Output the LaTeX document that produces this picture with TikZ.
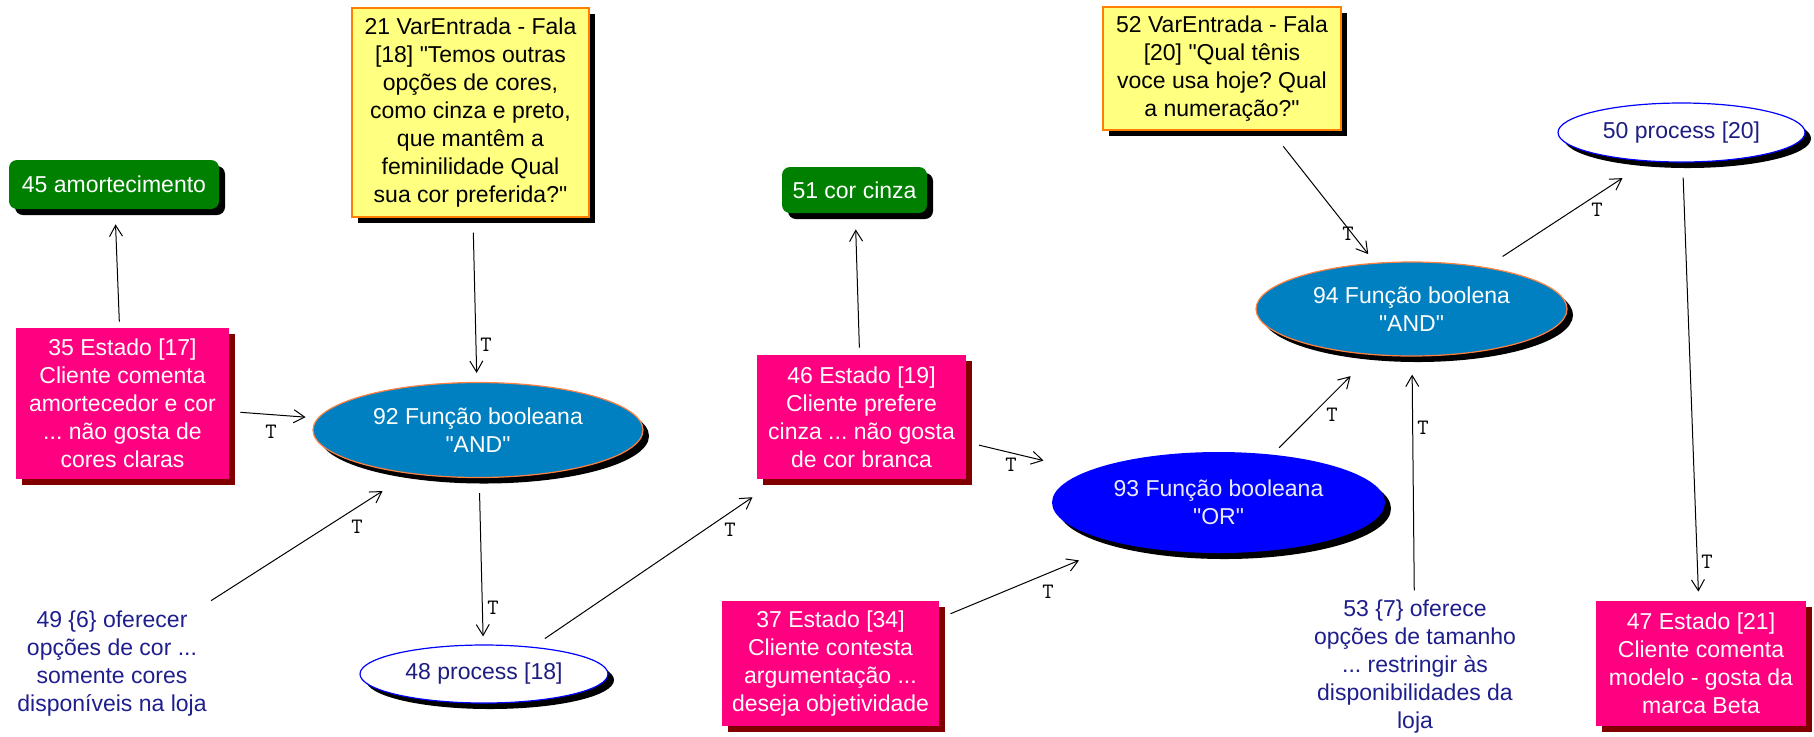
\documentclass[tikz,border=0pt]{standalone}
\usepackage{fontspec}
\setmainfont{Liberation Sans}[Ligatures=TeXOff]
\usetikzlibrary{shapes.geometric,shadows,arrows.meta}
\frenchspacing

\definecolor{statefill}{RGB}{255,0,128}
\definecolor{stateshadow}{RGB}{128,0,0}
\definecolor{termfill}{RGB}{0,128,0}
\definecolor{notefill}{RGB}{255,255,128}
\definecolor{noteline}{RGB}{255,128,0}
\definecolor{andfill}{RGB}{0,128,192}
\definecolor{andline}{RGB}{255,128,64}
\definecolor{orfill}{RGB}{0,0,255}
\definecolor{ortext}{RGB}{235,235,255}
\definecolor{procline}{RGB}{0,0,255}
\definecolor{proctext}{RGB}{30,30,128}
\definecolor{acttext}{RGB}{30,30,140}

\begin{document}
\begin{tikzpicture}[x=0.5pt,y=-0.5pt,
  base/.style={font=\fontsize{11.5pt}{14pt}\selectfont, align=center, inner sep=0pt},
  blackshadow/.style={drop shadow={shadow xshift=3pt,shadow yshift=-3pt,fill=black,opacity=1}},
  statebox/.style={base, rectangle, fill=statefill, text=white,
    drop shadow={shadow xshift=3pt,shadow yshift=-3pt,fill=stateshadow,opacity=1}},
  termbox/.style={base, rectangle, rounded corners=4pt, fill=termfill, text=white, blackshadow},
  notebox/.style={base, rectangle, fill=notefill, draw=noteline, line width=0.6pt, text=black, blackshadow},
  andell/.style={base, ellipse, fill=andfill, draw=andline, line width=0.6pt, text=white, blackshadow},
  orell/.style={base, ellipse, fill=orfill, text=ortext, blackshadow},
  procell/.style={base, ellipse, fill=white, draw=procline, line width=0.6pt, text=proctext, blackshadow},
  acttxt/.style={base, text=acttext},
  arr/.style={draw=black, line width=0.5pt, -{Straight Barb[length=5.5pt,width=6.5pt]}},
  tlab/.style={font=\ttfamily\fontsize{11pt}{11pt}\selectfont, inner sep=0pt, text=black}
]
\useasboundingbox (0,0) rectangle (1814,736);

% terminal concepts
\node[termbox, minimum width=105pt, minimum height=24.5pt] (n45) at (114,184.5) {45 amortecimento};
\node[termbox, minimum width=72.5pt, minimum height=23pt] (n51) at (854.5,190) {51 cor cinza};

% input utterances
\node[notebox, minimum width=118.5pt, minimum height=104.5pt] (n21) at (470.5,112.5)
  {21 VarEntrada - Fala\\{}[18] "Temos outras\\ opções de cores,\\ como cinza e preto,\\ que mantêm a\\ feminilidade Qual\\ sua cor preferida?"};
\node[notebox, minimum width=119pt, minimum height=61.5pt] (n52) at (1222,68.5)
  {52 VarEntrada - Fala\\{}[20] "Qual tênis\\ voce usa hoje? Qual\\ a numeração?"};

% client states
\node[statebox, minimum width=106.5pt, minimum height=75.5pt] (n35) at (122.5,403.5)
  {35 Estado [17]\\ Cliente comenta\\ amortecedor e cor\\ ... não gosta de\\ cores claras};
\node[statebox, minimum width=104.5pt, minimum height=62pt] (n46) at (861.5,417)
  {46 Estado [19]\\ Cliente prefere\\ cinza ... não gosta\\ de cor branca};
\node[statebox, minimum width=108.5pt, minimum height=62.5pt] (n37) at (830.5,663.5)
  {37 Estado [34]\\ Cliente contesta\\ argumentação ...\\ deseja objetividade};
\node[statebox, minimum width=105pt, minimum height=62.5pt] (n47) at (1701,663.5)
  {47 Estado [21]\\ Cliente comenta\\ modelo - gosta da\\ marca Beta};

% boolean functions
\node[andell, minimum width=165pt, minimum height=47.5pt] (n92) at (478,430) {92 Função booleana\\ "AND"};
\node[orell, minimum width=166.5pt, minimum height=50.5pt] (n93) at (1218.5,502.5) {93 Função booleana\\ "OR"};
\node[andell, minimum width=155.5pt, minimum height=47pt] (n94) at (1411.5,309) {94 Função boolena\\ "AND"};

% processes
\node[procell, minimum width=124pt, minimum height=29pt] (n48) at (484,674) {48 process [18]};
\node[procell, minimum width=123.5pt, minimum height=29.5pt] (n50) at (1681.5,132.5) {50 process [20]};

% actions
\node[acttxt] (n49) at (112,664) {49 \{6\} oferecer\\ opções de cor ...\\ somente cores\\ disponíveis na loja};
\node[acttxt] (n53) at (1415,666.5) {53 \{7\} oferece\\ opções de tamanho\\ ... restringir às\\ disponibilidades da\\ loja};

% connectors
\draw[arr, shorten <=3pt, shorten >=7.5pt] (n35) -- (n45);
\draw[arr, shorten <=3.5pt, shorten >=8pt] (n46) -- (n51);
\draw[arr, shorten <=7.5pt, shorten >=4.5pt] (n21) -- (n92);
\draw[arr, shorten <=5.5pt, shorten >=6pt] (n35) -- (n92);
\draw[arr, shorten <=9.5pt, shorten >=16pt] (n49) -- (n92);
\draw[arr, shorten <=7.5pt, shorten >=4pt] (n92) -- (n48);
\draw[arr, shorten <=12pt, shorten >=10.5pt, transform canvas={yshift=-3pt}] (n48) -- (n46);
\draw[arr, shorten <=6.5pt, shorten >=22.5pt] (n46) -- (n93);
\draw[arr, shorten <=6pt, shorten >=22pt] (n37) -- (n93);
\draw[arr, shorten <=8.5pt, shorten >=11pt, transform canvas={yshift=-3pt}] (n93) -- (n94);
\draw[arr, shorten <=10pt, shorten >=5.5pt] (n52) -- (n94);
\draw[arr, shorten <=4.5pt, shorten >=9pt] (n53) -- (n94);
\draw[arr, shorten <=15pt, shorten >=9.5pt, transform canvas={yshift=-3.5pt}] (n94) -- (n50);
\draw[arr, shorten <=7.5pt, shorten >=4.5pt] (n50) -- (n47);

% connector labels
\node[tlab] (t21) at (486,345) {T};
\node[tlab] (t35) at (271,432) {T};
\node[tlab] (t49) at (357,527) {T};
\node[tlab] (t92) at (493,608) {T};
\node[tlab] (t48) at (730,530) {T};
\node[tlab] (t46) at (1011,465) {T};
\node[tlab] (t37) at (1048,592) {T};
\node[tlab] (t93) at (1332,415) {T};
\node[tlab] (t52) at (1348,234) {T};
\node[tlab] (t94) at (1597,210) {T};
\node[tlab] (t50) at (1707,562) {T};
\node[tlab] (t53) at (1423,428) {T};
\end{tikzpicture}
\end{document}
